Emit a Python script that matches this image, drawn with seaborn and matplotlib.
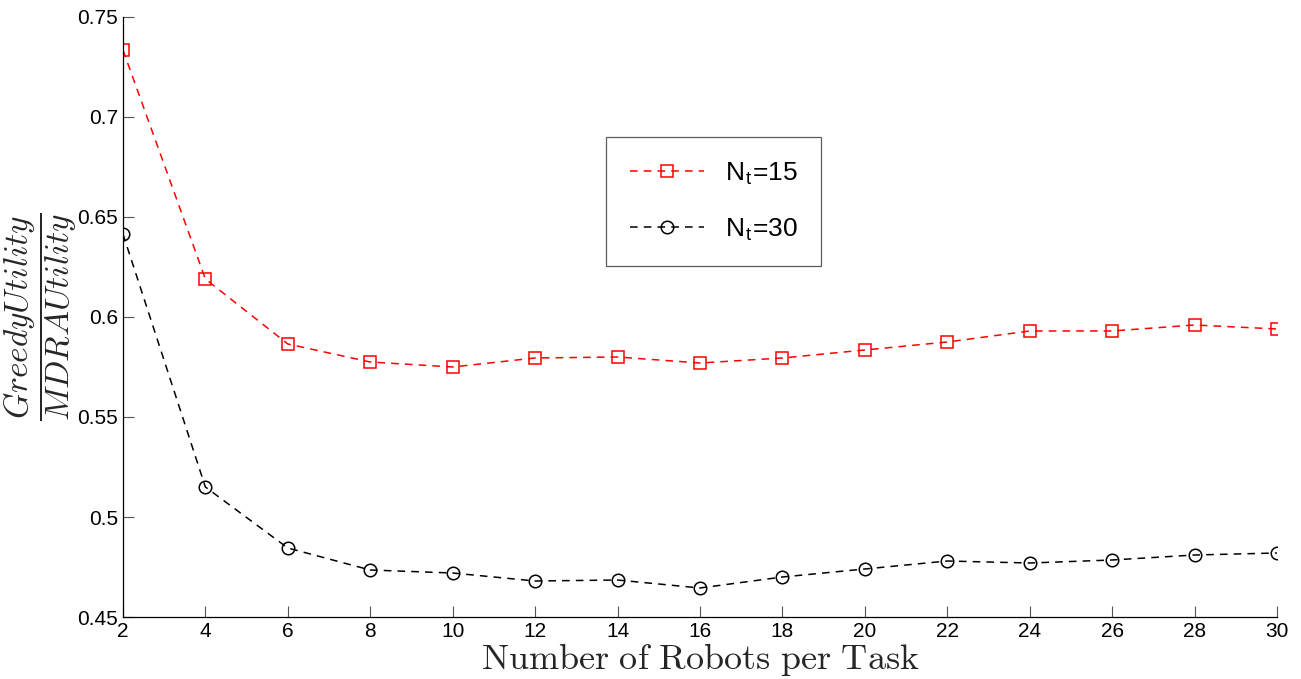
import numpy as np
import pandas as pd
import matplotlib
matplotlib.use('Agg')
import matplotlib.pyplot as plt
import seaborn as sns

# data
robots = [2, 4, 6, 8, 10, 12, 14, 16, 18, 20, 22, 24, 26, 28, 30]
ratio_nt15 = [0.7335, 0.619, 0.5865, 0.5775, 0.575, 0.5795, 0.580, 0.577,
              0.5795, 0.5835, 0.5875, 0.593, 0.593, 0.596, 0.594]
ratio_nt30 = [0.6415, 0.515, 0.4845, 0.4735, 0.472, 0.468, 0.4685, 0.4645,
              0.470, 0.474, 0.478, 0.477, 0.4785, 0.481, 0.482]
series_labels = [r'N$_\mathregular{t}$=15', r'N$_\mathregular{t}$=30']
x_ticks = list(range(2, 31, 2))
y_ticks = [0.45, 0.5, 0.55, 0.6, 0.65, 0.7, 0.75]

df = pd.concat([
    pd.DataFrame({'robots': robots, 'ratio': ratio_nt15, 'series': series_labels[0]}),
    pd.DataFrame({'robots': robots, 'ratio': ratio_nt30, 'series': series_labels[1]}),
])

sns.set_theme(style='ticks')
plt.rcParams['font.family'] = ['Liberation Sans', 'DejaVu Sans']
plt.rcParams['mathtext.fontset'] = 'cm'

fig = plt.figure(figsize=(13.01, 6.79), dpi=100)
ax = fig.add_axes([0.0945, 0.0913, 0.887, 0.8837])

sns.lineplot(data=df, x='robots', y='ratio', hue='series', style='series',
             palette=['#ff0000', '#000000'], markers=['s', 'o'],
             dashes=[(5, 4), (5, 4)], linewidth=1.1, markersize=9,
             markerfacecolor='none', markeredgewidth=1.1, ax=ax, legend=False)

# hollow markers with series-coloured edges
for line, c, lab in zip(ax.lines, ['#ff0000', '#000000'], series_labels):
    line.set_markeredgecolor(c)
    line.set_markerfacecolor('none')
    line.set_label(lab)

ax.set_xlim(2, 30)
ax.set_ylim(0.45, 0.75)
ax.set_xticks(x_ticks)
ax.set_yticks(y_ticks)
ax.set_yticklabels(['0.45', '0.5', '0.55', '0.6', '0.65', '0.7', '0.75'])
ax.tick_params(direction='in', length=8, width=0.8, labelsize=15, colors='#555555',
               labelcolor='black')
sns.despine(ax=ax)
for s in ['left', 'bottom']:
    ax.spines[s].set_linewidth(0.9)
    ax.spines[s].set_color('black')

ax.set_xlabel(r'$\mathrm{Number\ of\ Robots\ per\ Task}$', fontsize=26, labelpad=0)
ax.set_ylabel(r'$\dfrac{Greedy Utility}{MDRA Utility}$', fontsize=24)
ax.yaxis.set_label_coords(-0.038, 0.5)

leg = ax.legend(handles=ax.lines[:2], loc='upper left', bbox_to_anchor=(0.4185, 0.8),
                fontsize=19, frameon=True, fancybox=False, edgecolor='#333333',
                borderpad=0.9, labelspacing=1.1, handlelength=2.8, handletextpad=0.8,
                borderaxespad=0)
leg.get_frame().set_linewidth(0.9)
for t in leg.get_texts():
    t.set_color('black')

fig.savefig('out.png', dpi=100)
